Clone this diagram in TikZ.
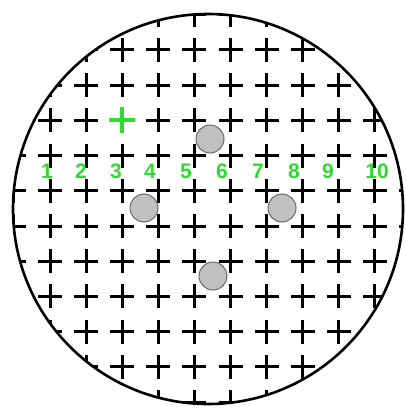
\documentclass[tikz,border=0pt]{standalone}
\usepackage{fontspec}
\setsansfont{Liberation Sans}
\usepackage{tikz}
\usetikzlibrary{positioning}
\definecolor{markgreen}{RGB}{45,220,45}
\definecolor{dotgray}{RGB}{192,192,194}
\definecolor{dotedge}{RGB}{105,105,105}

\begin{document}
\begin{tikzpicture}[x=1pt,y=-1pt]
\useasboundingbox (0,0) rectangle (405,414);
\coordinate (c) at (208,209);

% crosses, clipped by the round field
\begin{scope}
\clip (c) circle [radius=195pt];
\foreach \i in {0,...,11}{
  \foreach \j in {0,...,11}{
    \draw[line width=3pt] ({13.9+36.1*\i-12},{14.8+35.2*\j}) -- ++(24,0)
      ({13.9+36.1*\i},{14.8+35.2*\j-12}) -- ++(0,24);
  }
}
\end{scope}
\draw[line width=2.6pt] (c) circle [radius=195pt];

% green mark
\fill[white] (122,120) circle [radius=13pt];
\draw[line width=3.6pt, markgreen] (109,120) -- (135,120) (122,107) -- (122,133);

% column numbers
\foreach \k/\xx in {1/47,2/81,3/116,4/150,5/186,6/222,7/258,8/294,9/328,10/377}{
  \node[text=markgreen, font=\sffamily\bfseries\fontsize{21}{21}\selectfont, inner sep=0pt] (n\k) at (\xx,171) {\k};
}

% grey dots
\draw[line width=1pt, draw=dotedge, fill=dotgray] (210,139) circle [radius=14pt];
\draw[line width=1pt, draw=dotedge, fill=dotgray] (144,208) circle [radius=14pt];
\draw[line width=1pt, draw=dotedge, fill=dotgray] (282,208) circle [radius=14pt];
\draw[line width=1pt, draw=dotedge, fill=dotgray] (213,276) circle [radius=14pt];
\end{tikzpicture}
\end{document}
